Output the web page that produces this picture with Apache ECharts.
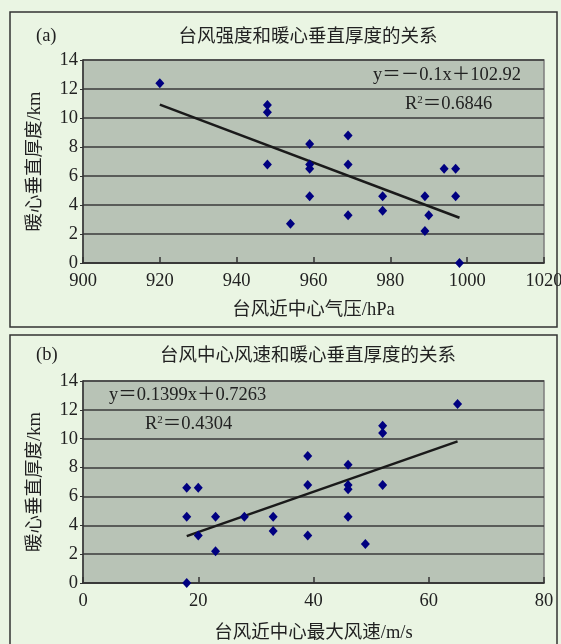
<!DOCTYPE html>
<html>
<head>
<meta charset="utf-8">
<script src="https://cdn.jsdelivr.net/npm/echarts@6/dist/echarts.min.js"></script>
<style>
	html, body { margin: 0; padding: 0; background: #eaf5e3; }
	#main { width: 561px; height: 644px; }
</style>
</head>
<body>
<div id="main"></div>
<script>
	// (a) 台风近中心气压 vs 暖心垂直厚度
	var pressure = [920, 948, 948, 948, 954, 959, 959, 959, 959, 969, 969, 969, 978, 978, 989, 990, 989, 994, 997, 997, 998];
	var thickA = [12.4, 10.9, 10.4, 6.8, 2.7, 8.2, 6.8, 6.5, 4.6, 8.8, 6.8, 3.3, 4.6, 3.6, 4.6, 3.3, 2.2, 6.5, 6.5, 4.6, 0];
	// (b) 台风近中心最大风速 vs 暖心垂直厚度
	var windSpeed = [18, 20, 18, 23, 28, 33, 33, 20, 23, 18, 39, 39, 39, 46, 46, 46, 46, 49, 52, 52, 52, 65];
	var thickB = [6.6, 6.6, 4.6, 4.6, 4.6, 4.6, 3.6, 3.3, 2.2, 0, 8.8, 6.8, 3.3, 8.2, 6.8, 6.5, 4.6, 2.7, 10.9, 10.4, 6.8, 12.4];
	// 拟合方程系数(图中标注)
	var fitA = { k: -0.1, b: 102.92, r2: '0.6846' };
	var fitB = { k: 0.1399, b: 0.7263, r2: '0.4304' };
	var yTicks = [0, 2, 4, 6, 8, 10, 12, 14];

	var FONT = '"Liberation Serif", "Noto Sans CJK SC", serif';
	var TXT = '#222';

	function zip(xs, ys) {
		var out = [];
		for (var i = 0; i < xs.length; i++) out.push([xs[i], ys[i]]);
		return out;
	}
	function trend(xs, fit) {
		var lo = Math.min.apply(null, xs), hi = Math.max.apply(null, xs);
		return [[lo, fit.k * lo + fit.b], [hi, fit.k * hi + fit.b]];
	}

	function xAxis(idx, min, max, name, gap) {
		return {
			type: 'value', gridIndex: idx, min: min, max: max, interval: 20,
			name: name, nameLocation: 'middle', nameGap: gap,
			nameTextStyle: { fontFamily: FONT, fontSize: 18.5, color: TXT },
			axisLine: { show: true, lineStyle: { color: '#333', width: 1.5 } },
			axisTick: { show: true, inside: true, length: 6, lineStyle: { color: '#333', width: 1.5 } },
			axisLabel: { fontFamily: FONT, fontSize: 18.5, color: TXT, margin: 9,
				formatter: function (v) { return String(v); } },
			splitLine: { show: false }
		};
	}
	function yAxis(idx) {
		return {
			type: 'value', gridIndex: idx, min: yTicks[0], max: yTicks[yTicks.length - 1], interval: 2,
			name: '暖心垂直厚度/km', nameLocation: 'middle', nameGap: 39, nameRotate: 90,
			nameTextStyle: { fontFamily: FONT, fontSize: 18.5, color: TXT },
			axisLine: { show: true, lineStyle: { color: '#333', width: 1.5 } },
			axisTick: { show: true, length: 3, lineStyle: { color: '#333' } },
			axisLabel: { fontFamily: FONT, fontSize: 18.5, color: TXT, margin: 5 },
			splitLine: { show: true, lineStyle: { color: '#3a3a3a', width: 1.5 } }
		};
	}
	function scatter(idx, data) {
		return {
			type: 'scatter', xAxisIndex: idx, yAxisIndex: idx, data: data,
			symbol: 'diamond', symbolSize: [9, 10],
			itemStyle: { color: '#000080', opacity: 1 }, z: 5
		};
	}
	function line(idx, data) {
		return {
			type: 'line', xAxisIndex: idx, yAxisIndex: idx, data: data,
			symbol: 'none', silent: true,
			lineStyle: { color: '#1a1a1a', width: 2.5 }, z: 4
		};
	}
	function label(x, y, str, align) {
		return {
			type: 'text', x: x, y: y, z: 10,
			style: { text: str, fontFamily: FONT, fontSize: 18.5, fill: TXT, align: align || 'left', verticalAlign: 'middle' }
		};
	}
	function r2Text(x, y, val) {
		return {
			type: 'text', x: x, y: y, z: 10,
			style: {
				text: 'R{sup|2}＝' + val, fontFamily: FONT, fontSize: 18.5, fill: TXT, verticalAlign: 'middle',
				rich: { sup: { fontFamily: FONT, fontSize: 11, fill: TXT, verticalAlign: 'top', padding: [0, 0, 8, 0] } }
			}
		};
	}

	var gridBase = { show: true, backgroundColor: '#b8c3b6', borderColor: '#7d7d7d', borderWidth: 1.5, outerBoundsMode: 'none' };
	var chart = echarts.init(document.getElementById('main'), null, { renderer: 'canvas' });
	chart.setOption({
		backgroundColor: '#eaf5e3',
		animation: false,
		grid: [
			Object.assign({ left: 83, top: 60, width: 461, height: 203 }, gridBase),
			Object.assign({ left: 83, top: 381, width: 461, height: 202 }, gridBase)
		],
		xAxis: [xAxis(0, 900, 1020, '台风近中心气压/hPa', 38), xAxis(1, 0, 80, '台风近中心最大风速/m/s', 41)],
		yAxis: [yAxis(0), yAxis(1)],
		series: [
			line(0, trend(pressure, fitA)),
			scatter(0, zip(pressure, thickA)),
			line(1, trend(windSpeed, fitB)),
			scatter(1, zip(windSpeed, thickB))
		],
		graphic: [
			{ type: 'rect', shape: { x: 10, y: 12, width: 547, height: 315 }, z: -1,
				style: { fill: 'none', stroke: '#333', lineWidth: 1.5 } },
			{ type: 'rect', shape: { x: 10, y: 335, width: 547, height: 320 }, z: -1,
				style: { fill: 'none', stroke: '#333', lineWidth: 1.5 } },
			label(36, 36, '(a)'),
			label(36, 355, '(b)'),
			label(308, 37, '台风强度和暖心垂直厚度的关系', 'center'),
			label(308, 356, '台风中心风速和暖心垂直厚度的关系', 'center'),
			label(373, 75, 'y＝－0.1x＋102.92'),
			r2Text(405, 104, fitA.r2),
			label(109, 395, 'y＝0.1399x＋0.7263'),
			r2Text(145, 424, fitB.r2)
		]
	});
</script>
</body>
</html>
